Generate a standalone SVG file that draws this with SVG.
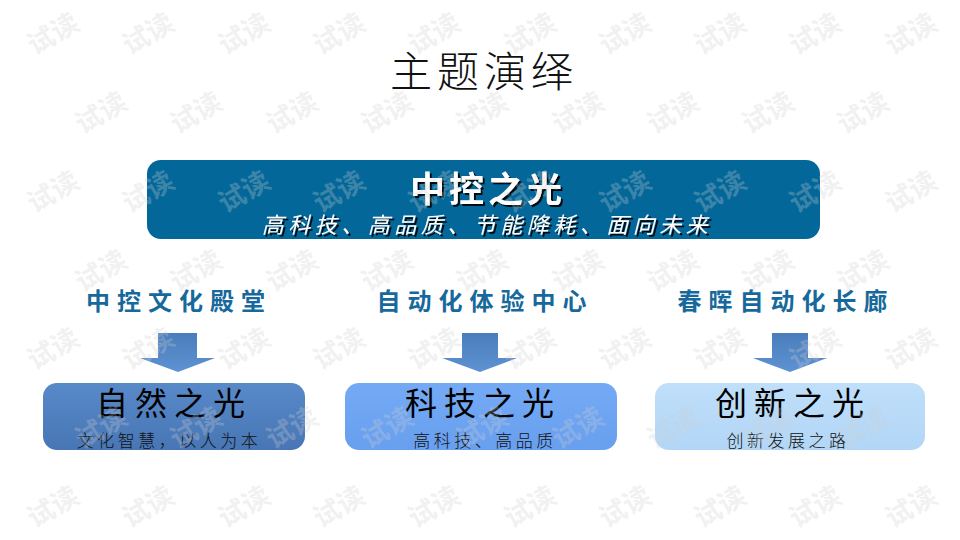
<svg xmlns="http://www.w3.org/2000/svg" width="960" height="540" viewBox="0 0 960 540">
<defs>
<style>
.cjk{font-family:"Noto Sans CJK SC","Noto Sans",sans-serif}
.title{font-size:42px;font-weight:300;fill:#111}
.ban1{font-size:35px;font-weight:700;fill:#fff}
.ban2{font-size:22px;font-style:italic;fill:#fff;letter-spacing:4.5px}
.head{font-size:24px;font-weight:700;fill:#17699B;letter-spacing:7px}
.main{font-size:32px;font-weight:400;fill:#000;letter-spacing:7px}
.sub{font-size:17px;font-weight:300;fill:#111;letter-spacing:3.5px}
.wm{font-size:27px;font-weight:700;fill:#cfcfcf;fill-opacity:0.3}
</style>
<filter id="shadow" x="-10%" y="-30%" width="120%" height="160%">
<feDropShadow dx="2" dy="2" stdDeviation="0.4" flood-color="#000" flood-opacity="0.9"/>
</filter>
<linearGradient id="gArrow" x1="0" y1="0" x2="0" y2="1">
<stop offset="0" stop-color="#4A7DBB"/><stop offset="1" stop-color="#5F92D2"/>
</linearGradient>
<linearGradient id="gB1" x1="0" y1="0" x2="0" y2="1">
<stop offset="0" stop-color="#5889C9"/><stop offset="1" stop-color="#4876B5"/>
</linearGradient>
<linearGradient id="gB2" x1="0" y1="0" x2="0" y2="1">
<stop offset="0" stop-color="#74AAF5"/><stop offset="1" stop-color="#689FEE"/>
</linearGradient>
<linearGradient id="gB3" x1="0" y1="0" x2="0" y2="1">
<stop offset="0" stop-color="#BFDFFA"/><stop offset="1" stop-color="#B2D6F6"/>
</linearGradient>
</defs>
<rect width="960" height="540" fill="#fff"/>

<g id="title">
<text class="cjk title" x="484" y="68" text-anchor="middle" dominant-baseline="central" letter-spacing="5">主题演绎</text>
</g>

<g id="banner">
<rect x="147" y="160" width="673" height="79" rx="14" fill="#03679A"/>
<text class="cjk ban1" x="488" y="186" text-anchor="middle" dominant-baseline="central" letter-spacing="4" filter="url(#shadow)">中控之光</text>
<text class="cjk ban2" x="487" y="223" text-anchor="middle" dominant-baseline="central" filter="url(#shadow)">高科技、高品质、节能降耗、面向未来</text>
</g>

<g id="head1"><text class="cjk head" x="179" y="299" text-anchor="middle" dominant-baseline="central">中控文化殿堂</text></g>
<g id="head2"><text class="cjk head" x="485" y="299" text-anchor="middle" dominant-baseline="central">自动化体验中心</text></g>
<g id="head3"><text class="cjk head" x="786" y="299" text-anchor="middle" dominant-baseline="central">春晖自动化长廊</text></g>

<g id="connectors">
<path d="M158 333 H197 V358 H215 L178 372 L140 358 H158 Z" fill="url(#gArrow)"/>
<path d="M462 333 H498 V358 H517 L480 372 L442 358 H462 Z" fill="url(#gArrow)"/>
<path d="M772 333 H808 V358 H827 L790 372 L753 358 H772 Z" fill="url(#gArrow)"/>
</g>

<g id="box1">
<rect x="43" y="383" width="262" height="67" rx="14" fill="url(#gB1)"/>
<text class="cjk main" x="174" y="401" text-anchor="middle" dominant-baseline="central">自然之光</text>
<text class="cjk sub" x="169" y="439" text-anchor="middle" dominant-baseline="central">文化智慧，以人为本</text>
</g>
<g id="box2">
<rect x="345" y="383" width="272" height="67" rx="14" fill="url(#gB2)"/>
<text class="cjk main" x="483" y="401" text-anchor="middle" dominant-baseline="central">科技之光</text>
<text class="cjk sub" x="485" y="439" text-anchor="middle" dominant-baseline="central">高科技、高品质</text>
</g>
<g id="box3">
<rect x="655" y="383" width="270" height="67" rx="14" fill="url(#gB3)"/>
<text class="cjk main" x="793" y="401" text-anchor="middle" dominant-baseline="central">创新之光</text>
<text class="cjk sub" x="788" y="439" text-anchor="middle" dominant-baseline="central">创新发展之路</text>
</g>

<g id="watermark" class="cjk wm" text-anchor="middle" dominant-baseline="central">
<text x="52" y="32" transform="rotate(-30 52 32)">试读</text>
<text x="147" y="32" transform="rotate(-30 147 32)">试读</text>
<text x="243" y="32" transform="rotate(-30 243 32)">试读</text>
<text x="338" y="32" transform="rotate(-30 338 32)">试读</text>
<text x="433" y="32" transform="rotate(-30 433 32)">试读</text>
<text x="529" y="32" transform="rotate(-30 529 32)">试读</text>
<text x="624" y="32" transform="rotate(-30 624 32)">试读</text>
<text x="719" y="32" transform="rotate(-30 719 32)">试读</text>
<text x="814" y="32" transform="rotate(-30 814 32)">试读</text>
<text x="910" y="32" transform="rotate(-30 910 32)">试读</text>
<text x="100" y="111" transform="rotate(-30 100 111)">试读</text>
<text x="195" y="111" transform="rotate(-30 195 111)">试读</text>
<text x="291" y="111" transform="rotate(-30 291 111)">试读</text>
<text x="386" y="111" transform="rotate(-30 386 111)">试读</text>
<text x="481" y="111" transform="rotate(-30 481 111)">试读</text>
<text x="577" y="111" transform="rotate(-30 577 111)">试读</text>
<text x="672" y="111" transform="rotate(-30 672 111)">试读</text>
<text x="767" y="111" transform="rotate(-30 767 111)">试读</text>
<text x="862" y="111" transform="rotate(-30 862 111)">试读</text>
<text x="52" y="190" transform="rotate(-30 52 190)">试读</text>
<text x="147" y="190" transform="rotate(-30 147 190)">试读</text>
<text x="243" y="190" transform="rotate(-30 243 190)">试读</text>
<text x="338" y="190" transform="rotate(-30 338 190)">试读</text>
<text x="433" y="190" transform="rotate(-30 433 190)">试读</text>
<text x="529" y="190" transform="rotate(-30 529 190)">试读</text>
<text x="624" y="190" transform="rotate(-30 624 190)">试读</text>
<text x="719" y="190" transform="rotate(-30 719 190)">试读</text>
<text x="814" y="190" transform="rotate(-30 814 190)">试读</text>
<text x="910" y="190" transform="rotate(-30 910 190)">试读</text>
<text x="100" y="269" transform="rotate(-30 100 269)">试读</text>
<text x="195" y="269" transform="rotate(-30 195 269)">试读</text>
<text x="291" y="269" transform="rotate(-30 291 269)">试读</text>
<text x="386" y="269" transform="rotate(-30 386 269)">试读</text>
<text x="481" y="269" transform="rotate(-30 481 269)">试读</text>
<text x="577" y="269" transform="rotate(-30 577 269)">试读</text>
<text x="672" y="269" transform="rotate(-30 672 269)">试读</text>
<text x="767" y="269" transform="rotate(-30 767 269)">试读</text>
<text x="862" y="269" transform="rotate(-30 862 269)">试读</text>
<text x="52" y="347" transform="rotate(-30 52 347)">试读</text>
<text x="147" y="347" transform="rotate(-30 147 347)">试读</text>
<text x="243" y="347" transform="rotate(-30 243 347)">试读</text>
<text x="338" y="347" transform="rotate(-30 338 347)">试读</text>
<text x="433" y="347" transform="rotate(-30 433 347)">试读</text>
<text x="529" y="347" transform="rotate(-30 529 347)">试读</text>
<text x="624" y="347" transform="rotate(-30 624 347)">试读</text>
<text x="719" y="347" transform="rotate(-30 719 347)">试读</text>
<text x="814" y="347" transform="rotate(-30 814 347)">试读</text>
<text x="910" y="347" transform="rotate(-30 910 347)">试读</text>
<text x="100" y="426" transform="rotate(-30 100 426)">试读</text>
<text x="195" y="426" transform="rotate(-30 195 426)">试读</text>
<text x="291" y="426" transform="rotate(-30 291 426)">试读</text>
<text x="386" y="426" transform="rotate(-30 386 426)">试读</text>
<text x="481" y="426" transform="rotate(-30 481 426)">试读</text>
<text x="577" y="426" transform="rotate(-30 577 426)">试读</text>
<text x="672" y="426" transform="rotate(-30 672 426)">试读</text>
<text x="767" y="426" transform="rotate(-30 767 426)">试读</text>
<text x="862" y="426" transform="rotate(-30 862 426)">试读</text>
<text x="52" y="505" transform="rotate(-30 52 505)">试读</text>
<text x="147" y="505" transform="rotate(-30 147 505)">试读</text>
<text x="243" y="505" transform="rotate(-30 243 505)">试读</text>
<text x="338" y="505" transform="rotate(-30 338 505)">试读</text>
<text x="433" y="505" transform="rotate(-30 433 505)">试读</text>
<text x="529" y="505" transform="rotate(-30 529 505)">试读</text>
<text x="624" y="505" transform="rotate(-30 624 505)">试读</text>
<text x="719" y="505" transform="rotate(-30 719 505)">试读</text>
<text x="814" y="505" transform="rotate(-30 814 505)">试读</text>
<text x="910" y="505" transform="rotate(-30 910 505)">试读</text>
</g>
</svg>
